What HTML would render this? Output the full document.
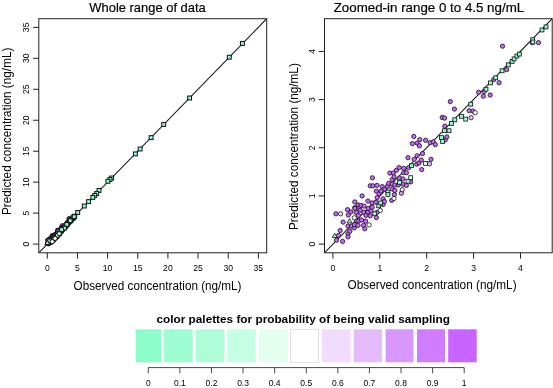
<!DOCTYPE html>
<html><head><meta charset="utf-8"><style>
html,body{margin:0;padding:0;background:#fff;}
svg{display:block;will-change:transform;}
text{font-family:"Liberation Sans", sans-serif;fill:#000;}
</style></head><body>
<svg width="553" height="388" viewBox="0 0 553 388">
<rect width="553" height="388" fill="#fff"/>
<clipPath id="cl"><rect x="38.8" y="18.7" width="227.89999999999998" height="234.10000000000002"/></clipPath>
<g clip-path="url(#cl)">
<line x1="38.8" y1="252.8" x2="266.7" y2="18.7" stroke="#1a1a1a" stroke-width="1.1"/>
<g stroke="#111" stroke-width="1.0">
<circle cx="73.73" cy="218.21" r="2.15" fill="#c864ff"/>
<circle cx="72.94" cy="218.21" r="2.15" fill="#c864ff"/>
<circle cx="69.65" cy="221.68" r="2.15" fill="#c864ff"/>
<circle cx="69.11" cy="218.66" r="2.15" fill="#c864ff"/>
<circle cx="68.67" cy="223.35" r="2.15" fill="#c864ff"/>
<circle cx="67.97" cy="222.95" r="2.15" fill="#c864ff"/>
<circle cx="67.52" cy="224.93" r="2.15" fill="#c864ff"/>
<circle cx="66.74" cy="224.49" r="2.15" fill="#c864ff"/>
<circle cx="66.64" cy="225.09" r="2.15" fill="#c864ff"/>
<circle cx="66.03" cy="224.58" r="2.15" fill="#c864ff"/>
<circle cx="65.31" cy="227.00" r="2.15" fill="#c864ff"/>
<circle cx="64.81" cy="226.95" r="2.15" fill="#c864ff"/>
<circle cx="62.92" cy="226.74" r="2.15" fill="#c864ff"/>
<circle cx="62.39" cy="225.78" r="2.15" fill="#c864ff"/>
<circle cx="61.94" cy="230.32" r="2.15" fill="#c864ff"/>
<circle cx="61.74" cy="230.72" r="2.15" fill="#c864ff"/>
<circle cx="61.69" cy="228.94" r="2.15" fill="#c864ff"/>
<circle cx="61.66" cy="227.90" r="2.15" fill="#c864ff"/>
<circle cx="61.35" cy="227.82" r="2.15" fill="#c864ff"/>
<circle cx="60.47" cy="231.31" r="2.15" fill="#c864ff"/>
<circle cx="60.21" cy="230.96" r="2.15" fill="#c864ff"/>
<circle cx="59.91" cy="233.20" r="2.15" fill="#c864ff"/>
<circle cx="59.81" cy="231.06" r="2.15" fill="#c864ff"/>
<circle cx="59.22" cy="230.75" r="2.15" fill="#c864ff"/>
<circle cx="58.82" cy="232.45" r="2.15" fill="#c864ff"/>
<circle cx="58.72" cy="234.52" r="2.15" fill="#c864ff"/>
<circle cx="58.67" cy="233.30" r="2.15" fill="#c864ff"/>
<circle cx="58.47" cy="230.66" r="2.15" fill="#c864ff"/>
<circle cx="58.42" cy="231.46" r="2.15" fill="#c864ff"/>
<circle cx="58.37" cy="233.67" r="2.15" fill="#c864ff"/>
<circle cx="58.14" cy="231.11" r="2.15" fill="#c864ff"/>
<circle cx="58.13" cy="232.75" r="2.15" fill="#c864ff"/>
<circle cx="58.07" cy="233.83" r="2.15" fill="#c864ff"/>
<circle cx="57.75" cy="233.20" r="2.15" fill="#c864ff"/>
<circle cx="57.70" cy="230.27" r="2.15" fill="#c864ff"/>
<circle cx="57.52" cy="231.18" r="2.15" fill="#c864ff"/>
<circle cx="57.30" cy="236.10" r="2.15" fill="#c864ff"/>
<circle cx="57.05" cy="234.26" r="2.15" fill="#c864ff"/>
<circle cx="56.96" cy="232.99" r="2.15" fill="#c864ff"/>
<circle cx="56.75" cy="234.92" r="2.15" fill="#c864ff"/>
<circle cx="56.75" cy="236.55" r="2.15" fill="#c864ff"/>
<circle cx="56.40" cy="234.37" r="2.15" fill="#c864ff"/>
<circle cx="56.40" cy="234.92" r="2.15" fill="#c864ff"/>
<circle cx="56.35" cy="236.41" r="2.15" fill="#c864ff"/>
<circle cx="56.30" cy="235.72" r="2.15" fill="#c864ff"/>
<circle cx="55.86" cy="235.61" r="2.15" fill="#c864ff"/>
<circle cx="55.81" cy="234.26" r="2.15" fill="#c864ff"/>
<circle cx="55.71" cy="236.50" r="2.15" fill="#c864ff"/>
<circle cx="55.46" cy="234.61" r="2.15" fill="#c864ff"/>
<circle cx="55.26" cy="236.50" r="2.15" fill="#c864ff"/>
<circle cx="55.26" cy="237.21" r="2.15" fill="#c864ff"/>
<circle cx="55.21" cy="237.74" r="2.15" fill="#c864ff"/>
<circle cx="55.17" cy="235.46" r="2.15" fill="#c864ff"/>
<circle cx="55.07" cy="234.97" r="2.15" fill="#c864ff"/>
<circle cx="54.91" cy="235.81" r="2.15" fill="#c864ff"/>
<circle cx="54.91" cy="236.36" r="2.15" fill="#c864ff"/>
<circle cx="54.91" cy="237.00" r="2.15" fill="#c864ff"/>
<circle cx="54.86" cy="238.48" r="2.15" fill="#c864ff"/>
<circle cx="54.62" cy="234.97" r="2.15" fill="#c864ff"/>
<circle cx="54.46" cy="236.31" r="2.15" fill="#c864ff"/>
<circle cx="54.32" cy="236.66" r="2.15" fill="#c864ff"/>
<circle cx="53.97" cy="237.05" r="2.15" fill="#c864ff"/>
<circle cx="53.92" cy="238.62" r="2.15" fill="#c864ff"/>
<circle cx="53.74" cy="239.02" r="2.15" fill="#c864ff"/>
<circle cx="53.74" cy="238.28" r="2.15" fill="#c864ff"/>
<circle cx="53.64" cy="236.71" r="2.15" fill="#c864ff"/>
<circle cx="53.50" cy="237.27" r="2.15" fill="#c864ff"/>
<circle cx="53.24" cy="237.63" r="2.15" fill="#c864ff"/>
<circle cx="53.00" cy="238.12" r="2.15" fill="#c864ff"/>
<circle cx="53.00" cy="240.01" r="2.15" fill="#c864ff"/>
<circle cx="52.97" cy="236.55" r="2.15" fill="#c864ff"/>
<circle cx="52.89" cy="240.69" r="2.15" fill="#c864ff"/>
<circle cx="52.89" cy="237.30" r="2.15" fill="#c864ff"/>
<circle cx="52.84" cy="238.73" r="2.15" fill="#c864ff"/>
<circle cx="52.44" cy="236.60" r="2.15" fill="#c864ff"/>
<circle cx="52.38" cy="235.58" r="2.15" fill="#c864ff"/>
<circle cx="52.35" cy="238.80" r="2.15" fill="#c864ff"/>
<circle cx="52.35" cy="239.37" r="2.15" fill="#c864ff"/>
<circle cx="52.20" cy="239.82" r="2.15" fill="#c864ff"/>
<circle cx="52.10" cy="240.46" r="2.15" fill="#c864ff"/>
<circle cx="52.10" cy="236.60" r="2.15" fill="#c864ff"/>
<circle cx="51.85" cy="239.52" r="2.15" fill="#c864ff"/>
<circle cx="51.80" cy="238.57" r="2.15" fill="#c864ff"/>
<circle cx="51.80" cy="239.97" r="2.15" fill="#c864ff"/>
<circle cx="51.56" cy="240.41" r="2.15" fill="#c864ff"/>
<circle cx="51.50" cy="241.16" r="2.15" fill="#c864ff"/>
<circle cx="51.40" cy="242.13" r="2.15" fill="#c864ff"/>
<circle cx="51.31" cy="239.21" r="2.15" fill="#c864ff"/>
<circle cx="51.26" cy="240.01" r="2.15" fill="#c864ff"/>
<circle cx="51.25" cy="241.70" r="2.15" fill="#c864ff"/>
<circle cx="51.05" cy="237.90" r="2.15" fill="#c864ff"/>
<circle cx="50.98" cy="241.00" r="2.15" fill="#c864ff"/>
<circle cx="50.91" cy="239.12" r="2.15" fill="#c864ff"/>
<circle cx="50.82" cy="239.75" r="2.15" fill="#c864ff"/>
<circle cx="50.66" cy="239.47" r="2.15" fill="#c864ff"/>
<circle cx="50.62" cy="241.10" r="2.15" fill="#c864ff"/>
<circle cx="50.58" cy="240.42" r="2.15" fill="#c864ff"/>
<circle cx="50.57" cy="239.07" r="2.15" fill="#c864ff"/>
<circle cx="50.53" cy="241.70" r="2.15" fill="#c864ff"/>
<circle cx="50.32" cy="240.05" r="2.15" fill="#c864ff"/>
<circle cx="50.32" cy="241.08" r="2.15" fill="#c864ff"/>
<circle cx="50.13" cy="239.51" r="2.15" fill="#c864ff"/>
<circle cx="50.12" cy="238.67" r="2.15" fill="#c864ff"/>
<circle cx="50.12" cy="239.42" r="2.15" fill="#c864ff"/>
<circle cx="50.08" cy="241.59" r="2.15" fill="#c864ff"/>
<circle cx="50.05" cy="242.00" r="2.15" fill="#c864ff"/>
<circle cx="49.69" cy="241.79" r="2.15" fill="#c864ff"/>
<circle cx="49.63" cy="239.97" r="2.15" fill="#c864ff"/>
<circle cx="49.49" cy="242.43" r="2.15" fill="#c864ff"/>
<circle cx="49.28" cy="240.36" r="2.15" fill="#c864ff"/>
<circle cx="49.24" cy="241.79" r="2.15" fill="#c864ff"/>
<circle cx="49.24" cy="242.78" r="2.15" fill="#c864ff"/>
<circle cx="49.24" cy="243.17" r="2.15" fill="#c864ff"/>
<circle cx="49.18" cy="239.68" r="2.15" fill="#c864ff"/>
<circle cx="48.61" cy="241.27" r="2.15" fill="#c864ff"/>
<circle cx="48.55" cy="243.75" r="2.15" fill="#c864ff"/>
<circle cx="48.24" cy="242.35" r="2.15" fill="#c864ff"/>
<circle cx="48.02" cy="242.98" r="2.15" fill="#c864ff"/>
<circle cx="47.76" cy="243.60" r="2.15" fill="#c864ff"/>
<circle cx="47.69" cy="240.20" r="2.15" fill="#c864ff"/>
<circle cx="56.11" cy="237.56" r="2.15" fill="#d896ff"/>
<circle cx="59.72" cy="233.78" r="2.15" fill="#e4bcfe"/>
<circle cx="56.21" cy="237.11" r="2.15" fill="#f1dbff"/>
<circle cx="48.29" cy="240.20" r="2.15" fill="#f1dbff"/>
<circle cx="65.60" cy="227.21" r="2.15" fill="#ffffff"/>
<circle cx="65.07" cy="227.85" r="2.15" fill="#e4bcfe"/>
<rect x="240.55" y="41.45" width="3.9" height="3.9" fill="#8cfcca"/>
<rect x="227.35" y="55.25" width="3.9" height="3.9" fill="#8cfcca"/>
<rect x="187.65" y="96.05" width="3.9" height="3.9" fill="#8cfcca"/>
<rect x="161.75" y="122.55" width="3.9" height="3.9" fill="#8cfcca"/>
<rect x="149.15" y="135.65" width="3.9" height="3.9" fill="#8cfcca"/>
<rect x="138.15" y="147.05" width="3.9" height="3.9" fill="#8cfcca"/>
<rect x="133.45" y="151.95" width="3.9" height="3.9" fill="#8cfcca"/>
<rect x="109.75" y="176.05" width="3.9" height="3.9" fill="#8cfcca"/>
<rect x="108.05" y="177.55" width="3.9" height="3.9" fill="#8cfcca"/>
<rect x="105.95" y="179.35" width="3.9" height="3.9" fill="#8cfcca"/>
<rect x="97.05" y="188.45" width="3.9" height="3.9" fill="#8cfcca"/>
<rect x="94.75" y="191.55" width="3.9" height="3.9" fill="#8cfcca"/>
<rect x="92.75" y="193.45" width="3.9" height="3.9" fill="#8cfcca"/>
<rect x="90.85" y="195.45" width="3.9" height="3.9" fill="#8cfcca"/>
<rect x="86.65" y="199.65" width="3.9" height="3.9" fill="#8cfcca"/>
<rect x="82.35" y="204.05" width="3.9" height="3.9" fill="#8cfcca"/>
<rect x="75.75" y="210.55" width="3.9" height="3.9" fill="#8cfcca"/>
<rect x="72.75" y="214.23" width="3.9" height="3.9" fill="#8cfcca"/>
<rect x="72.23" y="214.62" width="3.9" height="3.9" fill="#8cfcca"/>
<rect x="71.06" y="216.17" width="3.9" height="3.9" fill="#8cfcca"/>
<rect x="71.04" y="215.87" width="3.9" height="3.9" fill="#8cfcca"/>
<rect x="69.32" y="217.72" width="3.9" height="3.9" fill="#8cfcca"/>
<rect x="69.01" y="217.98" width="3.9" height="3.9" fill="#8cfcca"/>
<rect x="68.65" y="218.34" width="3.9" height="3.9" fill="#8cfcca"/>
<rect x="68.39" y="218.66" width="3.9" height="3.9" fill="#8cfcca"/>
<rect x="67.90" y="219.11" width="3.9" height="3.9" fill="#8cfcca"/>
<rect x="67.10" y="219.87" width="3.9" height="3.9" fill="#8cfcca"/>
<rect x="66.28" y="220.77" width="3.9" height="3.9" fill="#8cfcca"/>
<rect x="65.61" y="221.43" width="3.9" height="3.9" fill="#8cfcca"/>
<rect x="65.03" y="222.24" width="3.9" height="3.9" fill="#8cfcca"/>
<rect x="63.07" y="224.16" width="3.9" height="3.9" fill="#8cfcca"/>
<rect x="61.87" y="225.72" width="3.9" height="3.9" fill="#8cfcca"/>
<rect x="61.02" y="226.17" width="3.9" height="3.9" fill="#8cfcca"/>
<rect x="60.59" y="226.63" width="3.9" height="3.9" fill="#8cfcca"/>
<rect x="60.28" y="227.57" width="3.9" height="3.9" fill="#8cfcca"/>
<rect x="59.71" y="227.57" width="3.9" height="3.9" fill="#8cfcca"/>
<rect x="59.45" y="228.96" width="3.9" height="3.9" fill="#8cfcca"/>
<rect x="59.31" y="228.46" width="3.9" height="3.9" fill="#8cfcca"/>
<rect x="55.46" y="232.07" width="3.9" height="3.9" fill="#8cfcca"/>
<rect x="53.91" y="234.20" width="3.9" height="3.9" fill="#8cfcca"/>
<rect x="52.42" y="235.45" width="3.9" height="3.9" fill="#8cfcca"/>
<rect x="52.42" y="235.79" width="3.9" height="3.9" fill="#8cfcca"/>
<rect x="51.50" y="236.85" width="3.9" height="3.9" fill="#8cfcca"/>
<rect x="51.24" y="237.23" width="3.9" height="3.9" fill="#8cfcca"/>
<rect x="50.72" y="238.24" width="3.9" height="3.9" fill="#8cfcca"/>
<rect x="62.42" y="226.08" width="3.9" height="3.9" fill="#affcd9"/>
<rect x="55.01" y="234.06" width="3.9" height="3.9" fill="#affcd9"/>
<rect x="57.27" y="231.77" width="3.9" height="3.9" fill="#e2fff0"/>
<rect x="55.35" y="233.61" width="3.9" height="3.9" fill="#e2fff0"/>
<path d="M49.43,238.29L51.96,242.64L46.91,242.64Z" fill="#8cfcca"/>
<path d="M47.53,240.17L50.05,244.52L45.01,244.52Z" fill="#8cfcca"/>
<circle cx="55.16" cy="238.24" r="2.15" fill="#ffffff"/>
<circle cx="53.39" cy="239.77" r="2.15" fill="#ffffff"/>
<circle cx="51.95" cy="241.63" r="2.15" fill="#ffffff"/>
<circle cx="50.05" cy="240.72" r="2.15" fill="#ffffff"/>
<rect x="47.75" y="239.05" width="3.9" height="3.9" fill="#8cfcca"/>
<rect x="72.25" y="214.75" width="3.9" height="3.9" fill="#8cfcca"/>
<rect x="68.25" y="218.75" width="3.9" height="3.9" fill="#8cfcca"/>
<rect x="64.85" y="222.45" width="3.9" height="3.9" fill="#8cfcca"/>
<rect x="59.65" y="227.65" width="3.9" height="3.9" fill="#8cfcca"/>
<circle cx="59.20" cy="233.70" r="2.15" fill="#c4fee5"/>
<circle cx="55.10" cy="238.40" r="2.15" fill="#ffffff"/>
<circle cx="52.20" cy="241.70" r="2.15" fill="#ffffff"/>
<path d="M47.40,240.30L49.92,244.65L44.88,244.65Z" fill="#8cfcca"/>
</g></g>
<rect x="38.8" y="18.7" width="227.89999999999998" height="234.10000000000002" fill="none" stroke="#222" stroke-width="1"/>
<g stroke="#222" stroke-width="1">
<line x1="47.30" y1="252.8" x2="47.30" y2="258.6"/>
<line x1="77.45" y1="252.8" x2="77.45" y2="258.6"/>
<line x1="107.60" y1="252.8" x2="107.60" y2="258.6"/>
<line x1="137.75" y1="252.8" x2="137.75" y2="258.6"/>
<line x1="167.90" y1="252.8" x2="167.90" y2="258.6"/>
<line x1="198.05" y1="252.8" x2="198.05" y2="258.6"/>
<line x1="228.20" y1="252.8" x2="228.20" y2="258.6"/>
<line x1="258.35" y1="252.8" x2="258.35" y2="258.6"/>
<line x1="33.0" y1="244.10" x2="38.8" y2="244.10"/>
<line x1="33.0" y1="213.13" x2="38.8" y2="213.13"/>
<line x1="33.0" y1="182.17" x2="38.8" y2="182.17"/>
<line x1="33.0" y1="151.21" x2="38.8" y2="151.21"/>
<line x1="33.0" y1="120.24" x2="38.8" y2="120.24"/>
<line x1="33.0" y1="89.28" x2="38.8" y2="89.28"/>
<line x1="33.0" y1="58.31" x2="38.8" y2="58.31"/>
<line x1="33.0" y1="27.35" x2="38.8" y2="27.35"/>
</g>
<text x="47.30" y="270.6" font-size="8.6" text-anchor="middle">0</text>
<text x="77.45" y="270.6" font-size="8.6" text-anchor="middle">5</text>
<text x="107.60" y="270.6" font-size="8.6" text-anchor="middle">10</text>
<text x="137.75" y="270.6" font-size="8.6" text-anchor="middle">15</text>
<text x="167.90" y="270.6" font-size="8.6" text-anchor="middle">20</text>
<text x="198.05" y="270.6" font-size="8.6" text-anchor="middle">25</text>
<text x="228.20" y="270.6" font-size="8.6" text-anchor="middle">30</text>
<text x="258.35" y="270.6" font-size="8.6" text-anchor="middle">35</text>
<text x="28.90" y="244.10" font-size="8.6" text-anchor="middle" transform="rotate(-90 28.90 244.10)">0</text>
<text x="28.90" y="213.13" font-size="8.6" text-anchor="middle" transform="rotate(-90 28.90 213.13)">5</text>
<text x="28.90" y="182.17" font-size="8.6" text-anchor="middle" transform="rotate(-90 28.90 182.17)">10</text>
<text x="28.90" y="151.21" font-size="8.6" text-anchor="middle" transform="rotate(-90 28.90 151.21)">15</text>
<text x="28.90" y="120.24" font-size="8.6" text-anchor="middle" transform="rotate(-90 28.90 120.24)">20</text>
<text x="28.90" y="89.28" font-size="8.6" text-anchor="middle" transform="rotate(-90 28.90 89.28)">25</text>
<text x="28.90" y="58.31" font-size="8.6" text-anchor="middle" transform="rotate(-90 28.90 58.31)">30</text>
<text x="28.90" y="27.35" font-size="8.6" text-anchor="middle" transform="rotate(-90 28.90 27.35)">35</text>
<clipPath id="cr"><rect x="324.5" y="18.7" width="227.70000000000005" height="234.10000000000002"/></clipPath>
<g clip-path="url(#cr)">
<line x1="324.5" y1="252.8" x2="552.2" y2="18.7" stroke="#1a1a1a" stroke-width="1.1"/>
<g stroke="#111" stroke-width="0.8">
<circle cx="335.90" cy="213.80" r="2.15" fill="#c864ff"/>
<circle cx="336.50" cy="240.20" r="2.15" fill="#c864ff"/>
<circle cx="338.50" cy="235.40" r="2.15" fill="#c864ff"/>
<circle cx="340.20" cy="230.50" r="2.15" fill="#c864ff"/>
<circle cx="342.60" cy="241.40" r="2.15" fill="#c864ff"/>
<circle cx="343.10" cy="222.10" r="2.15" fill="#c864ff"/>
<circle cx="347.50" cy="209.70" r="2.15" fill="#c864ff"/>
<circle cx="348.00" cy="226.10" r="2.15" fill="#c864ff"/>
<circle cx="348.00" cy="233.80" r="2.15" fill="#c864ff"/>
<circle cx="348.00" cy="236.90" r="2.15" fill="#c864ff"/>
<circle cx="348.30" cy="215.00" r="2.15" fill="#c864ff"/>
<circle cx="349.90" cy="231.10" r="2.15" fill="#c864ff"/>
<circle cx="351.00" cy="212.00" r="2.15" fill="#c864ff"/>
<circle cx="351.50" cy="226.10" r="2.15" fill="#c864ff"/>
<circle cx="354.30" cy="227.80" r="2.15" fill="#c864ff"/>
<circle cx="354.50" cy="224.60" r="2.15" fill="#c864ff"/>
<circle cx="354.80" cy="201.90" r="2.15" fill="#c864ff"/>
<circle cx="354.80" cy="207.70" r="2.15" fill="#c864ff"/>
<circle cx="354.90" cy="208.40" r="2.15" fill="#c864ff"/>
<circle cx="356.40" cy="212.60" r="2.15" fill="#c864ff"/>
<circle cx="356.40" cy="220.60" r="2.15" fill="#c864ff"/>
<circle cx="358.00" cy="225.40" r="2.15" fill="#c864ff"/>
<circle cx="358.30" cy="205.00" r="2.15" fill="#c864ff"/>
<circle cx="358.40" cy="215.50" r="2.15" fill="#c864ff"/>
<circle cx="358.70" cy="220.80" r="2.15" fill="#c864ff"/>
<circle cx="359.00" cy="208.10" r="2.15" fill="#c864ff"/>
<circle cx="360.30" cy="210.30" r="2.15" fill="#c864ff"/>
<circle cx="361.00" cy="205.40" r="2.15" fill="#c864ff"/>
<circle cx="361.50" cy="220.00" r="2.15" fill="#c864ff"/>
<circle cx="362.10" cy="195.90" r="2.15" fill="#c864ff"/>
<circle cx="363.60" cy="225.40" r="2.15" fill="#c864ff"/>
<circle cx="363.70" cy="212.30" r="2.15" fill="#c864ff"/>
<circle cx="364.10" cy="206.10" r="2.15" fill="#c864ff"/>
<circle cx="364.80" cy="228.80" r="2.15" fill="#c864ff"/>
<circle cx="365.60" cy="221.20" r="2.15" fill="#c864ff"/>
<circle cx="366.00" cy="215.40" r="2.15" fill="#c864ff"/>
<circle cx="367.90" cy="201.10" r="2.15" fill="#c864ff"/>
<circle cx="367.90" cy="212.00" r="2.15" fill="#c864ff"/>
<circle cx="368.30" cy="208.50" r="2.15" fill="#c864ff"/>
<circle cx="370.20" cy="215.80" r="2.15" fill="#c864ff"/>
<circle cx="370.20" cy="185.80" r="2.15" fill="#c864ff"/>
<circle cx="371.00" cy="210.80" r="2.15" fill="#c864ff"/>
<circle cx="372.20" cy="202.90" r="2.15" fill="#c864ff"/>
<circle cx="372.20" cy="207.30" r="2.15" fill="#c864ff"/>
<circle cx="372.40" cy="177.80" r="2.15" fill="#c864ff"/>
<circle cx="372.90" cy="185.80" r="2.15" fill="#c864ff"/>
<circle cx="376.00" cy="202.30" r="2.15" fill="#c864ff"/>
<circle cx="376.40" cy="217.60" r="2.15" fill="#c864ff"/>
<circle cx="376.40" cy="191.20" r="2.15" fill="#c864ff"/>
<circle cx="377.00" cy="185.40" r="2.15" fill="#c864ff"/>
<circle cx="377.20" cy="197.60" r="2.15" fill="#c864ff"/>
<circle cx="377.20" cy="212.30" r="2.15" fill="#c864ff"/>
<circle cx="379.10" cy="193.80" r="2.15" fill="#c864ff"/>
<circle cx="381.10" cy="191.00" r="2.15" fill="#c864ff"/>
<circle cx="382.20" cy="186.60" r="2.15" fill="#c864ff"/>
<circle cx="383.00" cy="204.60" r="2.15" fill="#c864ff"/>
<circle cx="383.00" cy="198.80" r="2.15" fill="#c864ff"/>
<circle cx="384.40" cy="201.50" r="2.15" fill="#c864ff"/>
<circle cx="384.80" cy="189.30" r="2.15" fill="#c864ff"/>
<circle cx="387.50" cy="186.20" r="2.15" fill="#c864ff"/>
<circle cx="388.60" cy="183.50" r="2.15" fill="#c864ff"/>
<circle cx="389.80" cy="173.10" r="2.15" fill="#c864ff"/>
<circle cx="391.70" cy="200.40" r="2.15" fill="#c864ff"/>
<circle cx="392.10" cy="179.60" r="2.15" fill="#c864ff"/>
<circle cx="392.10" cy="183.90" r="2.15" fill="#c864ff"/>
<circle cx="392.10" cy="188.90" r="2.15" fill="#c864ff"/>
<circle cx="393.30" cy="173.10" r="2.15" fill="#c864ff"/>
<circle cx="394.10" cy="176.90" r="2.15" fill="#c864ff"/>
<circle cx="394.40" cy="194.60" r="2.15" fill="#c864ff"/>
<circle cx="394.80" cy="185.00" r="2.15" fill="#c864ff"/>
<circle cx="394.80" cy="190.50" r="2.15" fill="#c864ff"/>
<circle cx="396.40" cy="170.30" r="2.15" fill="#c864ff"/>
<circle cx="398.30" cy="185.00" r="2.15" fill="#c864ff"/>
<circle cx="399.10" cy="167.60" r="2.15" fill="#c864ff"/>
<circle cx="399.50" cy="178.10" r="2.15" fill="#c864ff"/>
<circle cx="402.90" cy="178.90" r="2.15" fill="#c864ff"/>
<circle cx="403.30" cy="184.30" r="2.15" fill="#c864ff"/>
<circle cx="403.70" cy="168.40" r="2.15" fill="#c864ff"/>
<circle cx="403.70" cy="172.70" r="2.15" fill="#c864ff"/>
<circle cx="406.40" cy="172.70" r="2.15" fill="#c864ff"/>
<circle cx="406.40" cy="185.40" r="2.15" fill="#c864ff"/>
<circle cx="408.00" cy="157.70" r="2.15" fill="#c864ff"/>
<circle cx="408.70" cy="167.60" r="2.15" fill="#c864ff"/>
<circle cx="410.70" cy="181.90" r="2.15" fill="#c864ff"/>
<circle cx="412.40" cy="143.60" r="2.15" fill="#c864ff"/>
<circle cx="413.80" cy="136.50" r="2.15" fill="#c864ff"/>
<circle cx="414.20" cy="159.30" r="2.15" fill="#c864ff"/>
<circle cx="416.70" cy="164.20" r="2.15" fill="#c864ff"/>
<circle cx="417.10" cy="155.80" r="2.15" fill="#c864ff"/>
<circle cx="417.20" cy="143.10" r="2.15" fill="#c864ff"/>
<circle cx="419.00" cy="163.00" r="2.15" fill="#c864ff"/>
<circle cx="419.40" cy="145.80" r="2.15" fill="#c864ff"/>
<circle cx="419.80" cy="139.60" r="2.15" fill="#c864ff"/>
<circle cx="421.30" cy="160.10" r="2.15" fill="#c864ff"/>
<circle cx="421.70" cy="169.60" r="2.15" fill="#c864ff"/>
<circle cx="422.50" cy="153.50" r="2.15" fill="#c864ff"/>
<circle cx="425.60" cy="140.30" r="2.15" fill="#c864ff"/>
<circle cx="430.20" cy="142.70" r="2.15" fill="#c864ff"/>
<circle cx="431.00" cy="159.30" r="2.15" fill="#c864ff"/>
<circle cx="433.30" cy="141.90" r="2.15" fill="#c864ff"/>
<circle cx="435.30" cy="144.60" r="2.15" fill="#c864ff"/>
<circle cx="442.20" cy="117.50" r="2.15" fill="#c864ff"/>
<circle cx="444.60" cy="118.10" r="2.15" fill="#c864ff"/>
<circle cx="444.80" cy="126.20" r="2.15" fill="#c864ff"/>
<circle cx="445.20" cy="140.00" r="2.15" fill="#c864ff"/>
<circle cx="446.80" cy="136.90" r="2.15" fill="#c864ff"/>
<circle cx="450.30" cy="101.60" r="2.15" fill="#c864ff"/>
<circle cx="454.40" cy="109.10" r="2.15" fill="#c864ff"/>
<circle cx="469.10" cy="110.70" r="2.15" fill="#c864ff"/>
<circle cx="473.00" cy="111.10" r="2.15" fill="#c864ff"/>
<circle cx="478.60" cy="92.30" r="2.15" fill="#c864ff"/>
<circle cx="483.30" cy="96.20" r="2.15" fill="#c864ff"/>
<circle cx="484.10" cy="91.60" r="2.15" fill="#c864ff"/>
<circle cx="490.20" cy="95.00" r="2.15" fill="#c864ff"/>
<circle cx="493.70" cy="79.60" r="2.15" fill="#c864ff"/>
<circle cx="499.10" cy="82.70" r="2.15" fill="#c864ff"/>
<circle cx="502.50" cy="46.20" r="2.15" fill="#c864ff"/>
<circle cx="506.70" cy="69.70" r="2.15" fill="#c864ff"/>
<circle cx="532.30" cy="42.70" r="2.15" fill="#c864ff"/>
<circle cx="538.50" cy="42.70" r="2.15" fill="#c864ff"/>
<circle cx="401.40" cy="193.20" r="2.15" fill="#d896ff"/>
<circle cx="429.50" cy="163.80" r="2.15" fill="#e4bcfe"/>
<circle cx="340.60" cy="213.80" r="2.15" fill="#f1dbff"/>
<circle cx="402.20" cy="189.70" r="2.15" fill="#f1dbff"/>
<circle cx="471.10" cy="117.70" r="2.15" fill="#e4bcfe"/>
<circle cx="475.20" cy="112.70" r="2.15" fill="#ffffff"/>
<rect x="372.75" y="211.75" width="3.9" height="3.9" fill="#8cfcca"/>
<rect x="376.75" y="203.85" width="3.9" height="3.9" fill="#8cfcca"/>
<rect x="378.75" y="200.95" width="3.9" height="3.9" fill="#8cfcca"/>
<rect x="385.95" y="190.05" width="3.9" height="3.9" fill="#8cfcca"/>
<rect x="385.95" y="192.65" width="3.9" height="3.9" fill="#8cfcca"/>
<rect x="397.55" y="180.35" width="3.9" height="3.9" fill="#8cfcca"/>
<rect x="409.55" y="163.75" width="3.9" height="3.9" fill="#8cfcca"/>
<rect x="439.55" y="135.65" width="3.9" height="3.9" fill="#8cfcca"/>
<rect x="440.65" y="139.55" width="3.9" height="3.9" fill="#8cfcca"/>
<rect x="442.65" y="128.75" width="3.9" height="3.9" fill="#8cfcca"/>
<rect x="447.05" y="128.75" width="3.9" height="3.9" fill="#8cfcca"/>
<rect x="449.45" y="121.45" width="3.9" height="3.9" fill="#8cfcca"/>
<rect x="452.85" y="117.85" width="3.9" height="3.9" fill="#8cfcca"/>
<rect x="459.45" y="114.35" width="3.9" height="3.9" fill="#8cfcca"/>
<rect x="468.75" y="102.25" width="3.9" height="3.9" fill="#8cfcca"/>
<rect x="484.05" y="87.25" width="3.9" height="3.9" fill="#8cfcca"/>
<rect x="488.55" y="80.95" width="3.9" height="3.9" fill="#8cfcca"/>
<rect x="493.75" y="75.85" width="3.9" height="3.9" fill="#8cfcca"/>
<rect x="500.15" y="68.85" width="3.9" height="3.9" fill="#8cfcca"/>
<rect x="506.35" y="62.95" width="3.9" height="3.9" fill="#8cfcca"/>
<rect x="510.15" y="59.45" width="3.9" height="3.9" fill="#8cfcca"/>
<rect x="512.15" y="56.95" width="3.9" height="3.9" fill="#8cfcca"/>
<rect x="514.95" y="54.15" width="3.9" height="3.9" fill="#8cfcca"/>
<rect x="517.35" y="52.15" width="3.9" height="3.9" fill="#8cfcca"/>
<rect x="530.75" y="37.75" width="3.9" height="3.9" fill="#8cfcca"/>
<rect x="530.95" y="40.05" width="3.9" height="3.9" fill="#8cfcca"/>
<rect x="540.05" y="28.05" width="3.9" height="3.9" fill="#8cfcca"/>
<rect x="544.05" y="24.95" width="3.9" height="3.9" fill="#8cfcca"/>
<rect x="406.05" y="179.25" width="3.9" height="3.9" fill="#affcd9"/>
<rect x="463.75" y="117.15" width="3.9" height="3.9" fill="#affcd9"/>
<rect x="408.75" y="175.75" width="3.9" height="3.9" fill="#e2fff0"/>
<rect x="423.65" y="161.45" width="3.9" height="3.9" fill="#e2fff0"/>
<path d="M334.70,233.20L337.22,237.55L332.18,237.55Z" fill="#8cfcca"/>
<path d="M349.50,218.60L352.02,222.95L346.98,222.95Z" fill="#8cfcca"/>
<circle cx="354.30" cy="217.80" r="2.15" fill="#ffffff"/>
<circle cx="369.10" cy="224.90" r="2.15" fill="#ffffff"/>
<circle cx="380.30" cy="210.40" r="2.15" fill="#ffffff"/>
<circle cx="394.00" cy="198.50" r="2.15" fill="#ffffff"/>
</g></g>
<rect x="324.5" y="18.7" width="227.70000000000005" height="234.10000000000002" fill="none" stroke="#222" stroke-width="1"/>
<g stroke="#222" stroke-width="1">
<line x1="332.90" y1="252.8" x2="332.90" y2="258.6"/>
<line x1="379.80" y1="252.8" x2="379.80" y2="258.6"/>
<line x1="426.70" y1="252.8" x2="426.70" y2="258.6"/>
<line x1="473.60" y1="252.8" x2="473.60" y2="258.6"/>
<line x1="520.50" y1="252.8" x2="520.50" y2="258.6"/>
<line x1="318.7" y1="244.10" x2="324.5" y2="244.10"/>
<line x1="318.7" y1="195.93" x2="324.5" y2="195.93"/>
<line x1="318.7" y1="147.76" x2="324.5" y2="147.76"/>
<line x1="318.7" y1="99.59" x2="324.5" y2="99.59"/>
<line x1="318.7" y1="51.42" x2="324.5" y2="51.42"/>
</g>
<text x="332.90" y="270.6" font-size="8.6" text-anchor="middle">0</text>
<text x="379.80" y="270.6" font-size="8.6" text-anchor="middle">1</text>
<text x="426.70" y="270.6" font-size="8.6" text-anchor="middle">2</text>
<text x="473.60" y="270.6" font-size="8.6" text-anchor="middle">3</text>
<text x="520.50" y="270.6" font-size="8.6" text-anchor="middle">4</text>
<text x="314.60" y="244.10" font-size="8.6" text-anchor="middle" transform="rotate(-90 314.60 244.10)">0</text>
<text x="314.60" y="195.93" font-size="8.6" text-anchor="middle" transform="rotate(-90 314.60 195.93)">1</text>
<text x="314.60" y="147.76" font-size="8.6" text-anchor="middle" transform="rotate(-90 314.60 147.76)">2</text>
<text x="314.60" y="99.59" font-size="8.6" text-anchor="middle" transform="rotate(-90 314.60 99.59)">3</text>
<text x="314.60" y="51.42" font-size="8.6" text-anchor="middle" transform="rotate(-90 314.60 51.42)">4</text>
<text x="89.3" y="11.7" font-size="12.9" stroke="#000" stroke-width="0.18" textLength="116.5" lengthAdjust="spacingAndGlyphs">Whole range of data</text>
<text x="333.7" y="11.5" font-size="13.1" stroke="#000" stroke-width="0.18" textLength="190.5" lengthAdjust="spacingAndGlyphs">Zoomed-in range 0 to 4.5 ng/mL</text>
<text x="73.6" y="289.7" font-size="12.3" textLength="167.9" lengthAdjust="spacingAndGlyphs">Observed concentration (ng/mL)</text>
<text x="347.6" y="288.7" font-size="12.3" textLength="169" lengthAdjust="spacingAndGlyphs">Observed concentration (ng/mL)</text>
<text x="11.4" y="215.0" font-size="12.3" textLength="167.4" lengthAdjust="spacingAndGlyphs" transform="rotate(-90 11.4 215.0)">Predicted concentration (ng/mL)</text>
<text x="297.7" y="230.0" font-size="12.3" textLength="166.8" lengthAdjust="spacingAndGlyphs" transform="rotate(-90 297.7 230.0)">Predicted concentration (ng/mL)</text>
<text x="156.5" y="322.5" font-size="11.7" font-weight="bold" textLength="293.5" lengthAdjust="spacingAndGlyphs">color palettes for probability of being valid sampling</text>
<rect x="135.6" y="329.3" width="25.7" height="33" fill="#8cfcca"/>
<rect x="164.1" y="329.3" width="28.6" height="33" fill="#9dfcd2"/>
<rect x="195.7" y="329.3" width="28.8" height="33" fill="#affcd9"/>
<rect x="227.3" y="329.3" width="28.4" height="33" fill="#c4fee5"/>
<rect x="258.6" y="329.3" width="28.9" height="33" fill="#e2fff0"/>
<rect x="290.6" y="329.3" width="27.8" height="33" fill="#ffffff" stroke="#d8d8d8" stroke-width="0.8"/>
<rect x="321.9" y="329.3" width="28.7" height="33" fill="#f1dbff"/>
<rect x="353.7" y="329.3" width="28.3" height="33" fill="#e4bcfe"/>
<rect x="385.6" y="329.3" width="27.9" height="33" fill="#d896ff"/>
<rect x="417" y="329.3" width="28.0" height="33" fill="#cf7cff"/>
<rect x="448.2" y="329.3" width="28.5" height="33" fill="#c864ff"/>
<g stroke="#333" stroke-width="0.9"><line x1="148.3" y1="367.6" x2="464.2" y2="367.6"/>
<line x1="148.30" y1="367.6" x2="148.30" y2="373.2"/>
<line x1="179.89" y1="367.6" x2="179.89" y2="373.2"/>
<line x1="211.48" y1="367.6" x2="211.48" y2="373.2"/>
<line x1="243.07" y1="367.6" x2="243.07" y2="373.2"/>
<line x1="274.66" y1="367.6" x2="274.66" y2="373.2"/>
<line x1="306.25" y1="367.6" x2="306.25" y2="373.2"/>
<line x1="337.84" y1="367.6" x2="337.84" y2="373.2"/>
<line x1="369.43" y1="367.6" x2="369.43" y2="373.2"/>
<line x1="401.02" y1="367.6" x2="401.02" y2="373.2"/>
<line x1="432.61" y1="367.6" x2="432.61" y2="373.2"/>
<line x1="464.20" y1="367.6" x2="464.20" y2="373.2"/>
</g>
<text x="148.30" y="386.3" font-size="8.5" text-anchor="middle">0</text>
<text x="179.89" y="386.3" font-size="8.5" text-anchor="middle">0.1</text>
<text x="211.48" y="386.3" font-size="8.5" text-anchor="middle">0.2</text>
<text x="243.07" y="386.3" font-size="8.5" text-anchor="middle">0.3</text>
<text x="274.66" y="386.3" font-size="8.5" text-anchor="middle">0.4</text>
<text x="306.25" y="386.3" font-size="8.5" text-anchor="middle">0.5</text>
<text x="337.84" y="386.3" font-size="8.5" text-anchor="middle">0.6</text>
<text x="369.43" y="386.3" font-size="8.5" text-anchor="middle">0.7</text>
<text x="401.02" y="386.3" font-size="8.5" text-anchor="middle">0.8</text>
<text x="432.61" y="386.3" font-size="8.5" text-anchor="middle">0.9</text>
<text x="464.20" y="386.3" font-size="8.5" text-anchor="middle">1</text>
</svg></body></html>
